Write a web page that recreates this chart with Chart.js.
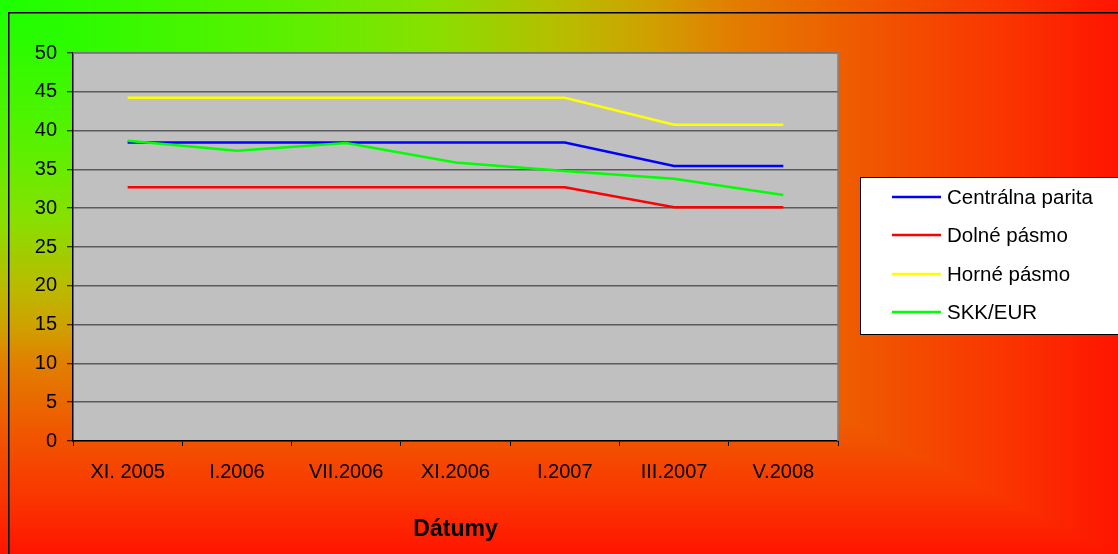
<!DOCTYPE html>
<html>
<head>
<meta charset="utf-8">
<script src="https://cdn.jsdelivr.net/npm/chart.js@4/dist/chart.umd.min.js"></script>
<style>
  html, body { margin: 0; padding: 0; background: #ffffff; }
  #wrap { width: 1118px; height: 554px; }
</style>
</head>
<body>
<div id="wrap"><canvas id="c" width="1118" height="554"></canvas></div>
<script>
// Exchange-rate band of the Slovak koruna in ERM II
const categories = ['XI. 2005', 'I.2006', 'VII.2006', 'XI.2006', 'I.2007', 'III.2007', 'V.2008'];
const centralnaParita = [38.455, 38.455, 38.455, 38.455, 38.455, 35.442, 35.442];
const dolnePasmo      = [32.687, 32.687, 32.687, 32.687, 32.687, 30.126, 30.126];
const hornePasmo      = [44.223, 44.223, 44.223, 44.223, 44.223, 40.759, 40.759];
const skkEur          = [38.7, 37.4, 38.4, 35.9, 34.8, 33.8, 31.7];
const yTicks = [0, 5, 10, 15, 20, 25, 30, 35, 40, 45, 50];

const seriesNames  = ['Centrálna parita', 'Dolné pásmo', 'Horné pásmo', 'SKK/EUR'];
const seriesColors = ['#0000ff', '#ff0000', '#ffff00', '#00ff00'];

const FONT = '"Liberation Sans", Arial, sans-serif';

// Corner gradient behind the whole chart (green -> yellow -> orange -> red)
const stops = [
  [0.00, [30, 255, 0]],
  [0.25, [92, 240, 0]],
  [0.38, [136, 224, 0]],
  [0.50, [184, 188, 0]],
  [0.58, [208, 160, 0]],
  [0.65, [226, 126, 0]],
  [0.77, [240, 88, 0]],
  [0.90, [250, 52, 0]],
  [1.00, [255, 20, 0]]
];
function colorAt(t) {
  for (let i = 1; i < stops.length; i++) {
    if (t <= stops[i][0]) {
      const a = stops[i - 1], b = stops[i];
      const f = (t - a[0]) / (b[0] - a[0]);
      return a[1].map((v, k) => Math.round(v + (b[1][k] - v) * f));
    }
  }
  return stops[stops.length - 1][1];
}
let bgCache = null;
function backgroundCanvas(w, h) {
  if (bgCache && bgCache.width === w && bgCache.height === h) return bgCache;
  const off = document.createElement('canvas');
  off.width = w; off.height = h;
  const octx = off.getContext('2d');
  const img = octx.createImageData(w, h);
  const x0 = 9, y0 = 13, fw = w - x0, fh = h - y0;
  for (let y = 0; y < h; y++) {
    for (let x = 0; x < w; x++) {
      const t = Math.min(1, Math.max(0, Math.max((x - x0) / fw, (y - y0) / fh)));
      const c = colorAt(t);
      const p = (y * w + x) * 4;
      img.data[p] = c[0]; img.data[p + 1] = c[1]; img.data[p + 2] = c[2]; img.data[p + 3] = 255;
    }
  }
  octx.putImageData(img, 0, 0);
  bgCache = off;
  return off;
}

const framePlugin = {
  id: 'frame',
  beforeDraw(chart) {
    const { ctx, width, height, chartArea } = chart;
    ctx.save();
    ctx.fillStyle = '#ffffff';
    ctx.fillRect(0, 0, width, height);
    ctx.drawImage(backgroundCanvas(width, height), 0, 0);
    // outer frame
    ctx.strokeStyle = '#000000';
    ctx.lineWidth = 1.5;
    ctx.strokeRect(8.75, 12.75, width + 10, height + 10);
    // plot area fill
    ctx.fillStyle = '#c0c0c0';
    ctx.fillRect(chartArea.left, chartArea.top, chartArea.right - chartArea.left, chartArea.bottom - chartArea.top);
    ctx.restore();
  },
  afterDraw(chart) {
    const { ctx, chartArea } = chart;
    ctx.save();
    // top and right border of plot area
    ctx.strokeStyle = '#808080';
    ctx.lineWidth = 1.5;
    ctx.beginPath();
    ctx.moveTo(chartArea.left, chartArea.top);
    ctx.lineTo(chartArea.right, chartArea.top);
    ctx.lineTo(chartArea.right, chartArea.bottom);
    ctx.stroke();

    // legend box
    const bx = 860.5, by = 177.5, bw = 270, bh = 157;
    ctx.fillStyle = '#ffffff';
    ctx.fillRect(bx, by, bw, bh);
    ctx.strokeStyle = '#000000';
    ctx.lineWidth = 1;
    ctx.strokeRect(bx, by, bw, bh);
    const rows = [197, 235, 274, 312];
    ctx.font = '20.5px ' + FONT;
    ctx.textBaseline = 'middle';
    ctx.textAlign = 'left';
    seriesNames.forEach((name, i) => {
      ctx.strokeStyle = seriesColors[i];
      ctx.lineWidth = 2.5;
      ctx.beginPath();
      ctx.moveTo(892, rows[i]);
      ctx.lineTo(941, rows[i]);
      ctx.stroke();
      ctx.fillStyle = '#000000';
      ctx.fillText(name, 947, rows[i] + 1);
    });
    ctx.restore();
  }
};

const seriesData = [centralnaParita, dolnePasmo, hornePasmo, skkEur];
const drawOrder = [1, 2, 3, 0];

new Chart(document.getElementById('c'), {
  type: 'line',
  data: {
    labels: categories,
    datasets: seriesNames.map((name, i) => ({
      label: name,
      data: seriesData[i],
      borderColor: seriesColors[i],
      backgroundColor: seriesColors[i],
      borderWidth: 2.5,
      pointRadius: 0,
      tension: 0,
      fill: false,
      order: drawOrder[i]
    }))
  },
  options: {
    responsive: false,
    devicePixelRatio: 1,
    animation: false,
    layout: { padding: { left: 0, top: 53, right: 280, bottom: 0 } },
    plugins: { legend: { display: false }, tooltip: { enabled: false } },
    scales: {
      x: {
        type: 'category',
        offset: true,
        grid: { offset: true, drawOnChartArea: false, drawTicks: true, tickLength: 5, tickColor: '#000000', tickWidth: 1 },
        border: { display: true, color: '#000000', width: 1.5 },
        ticks: { color: '#000000', font: { family: FONT, size: 20 }, padding: 14, maxRotation: 0, autoSkip: false },
        title: { display: true, text: 'Dátumy', color: '#000000', font: { family: FONT, size: 23, weight: 'bold' }, padding: { top: 0, bottom: 11 } },
        afterFit(scale) { scale.height = 113; }
      },
      y: {
        min: 0,
        max: 50,
        afterBuildTicks(scale) { scale.ticks = yTicks.map(v => ({ value: v })); },
        grid: { color: '#5a5a5a', lineWidth: 1.5, drawTicks: true, tickLength: 6, tickColor: '#000000', tickWidth: 1 },
        border: { display: true, color: '#000000', width: 1.5 },
        ticks: { color: '#000000', font: { family: FONT, size: 20 }, padding: 10 },
        afterFit(scale) { scale.width = 73; }
      }
    }
  },
  plugins: [framePlugin]
});
</script>
</body>
</html>
